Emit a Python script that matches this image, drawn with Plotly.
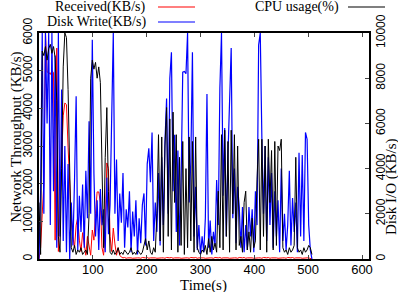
import plotly.graph_objects as go

# time stamps (s), one sample every 3 s
time_s = list(range(0, 510, 3))

received_kbs = [
    0, 300, 1200, 2000, 6000, 4960, 4960, 4900, 5000, 4950,
    500, 5600, 200, 1500, 3000, 3800, 4140, 4100, 2970, 1900,
    1100, 600, 300, 900, 1100, 500, 200, 700, 400, 100,
    600, 300, 100, 770, 500, 1200, 1780, 1780, 1500, 300,
    100, 800, 2550, 2400, 600, 200, 820, 400, 100, 300,
    100, 50, 30, 40, 20, 30, 40, 30, 20, 30,
    40, 30, 30, 20, 40, 30, 30, 40, 20, 30,
    30, 40, 30, 20, 30, 40, 30, 30, 20, 40,
    30, 30, 40, 20, 30, 30, 40, 30, 20, 30,
    40, 30, 30, 20, 40, 30, 30, 40, 20, 30,
    30, 40, 30, 20, 30, 40, 30, 30, 20, 40,
    30, 30, 40, 20, 30, 30, 40, 30, 20, 30,
    40, 30, 30, 20, 40, 30, 30, 40, 20, 30,
    30, 40, 30, 20, 30, 40, 30, 30, 20, 40,
    30, 30, 40, 20, 30, 30, 40, 30, 20, 30,
    40, 30, 30, 20, 40, 30, 30, 40, 20, 30,
    30, 40, 30, 20, 30, 40, 30, 30, 20, 0,
]

disk_write_kbs = [
    0, 3000, 10000, 2000, 10000, 6000, 10000, 1500, 10000, 3000,
    9000, 500, 10000, 1000, 7500, 800, 5000, 300, 4200, 0,
    2500, 600, 3500, 7200, 400, 2800, 1200, 3300, 500, 3900,
    1800, 6100, 2000, 9700, 3800, 1000, 2600, 400, 3100, 1500,
    2200, 300, 3600, 1100, 2400, 6500, 10000, 2000, 4400, 800,
    2900, 1600, 3800, 500, 2200, 1400, 3000, 300, 2100, 1000,
    2600, 200, 1800, 700, 2400, 2900, 600, 4200, 4900, 3400,
    5600, 800, 2500, 1200, 3800, 600, 4500, 1500, 5200, 7100,
    2000, 8000, 9150, 3000, 5500, 1200, 4800, 600, 3500, 8270,
    8300, 8200, 10000, 2500, 4300, 9150, 1000, 3200, 400, 1500,
    200, 1000, 300, 1800, 7300, 500, 1700, 200, 1200, 600,
    3500, 1500, 7570, 10000, 2800, 5800, 1000, 4600, 6700, 9340,
    1800, 4000, 700, 3200, 2300, 500, 2300, 300, 1500, 400,
    2300, 1000, 2200, 300, 3000, 1500, 9470, 10000, 5350, 2000,
    5000, 800, 4500, 1500, 3800, 500, 3000, 1000, 2600, 300,
    4000, 800, 2000, 400, 1500, 3900, 600, 2700, 1200, 2500,
    300, 4700, 1000, 4600, 800, 5600, 5300, 1500, 400, 0,
]

cpu_usage_pct = [
    25, 2, 92, 90, 94, 88, 93, 95, 91, 94,
    89, 70, 10, 3, 40, 85, 100, 98, 75, 30,
    5, 3, 6, 2, 4, 3, 5, 2, 3, 4,
    2, 20, 80, 88, 84, 87, 80, 85, 78, 40,
    5, 45, 67, 30, 3, 2, 4, 2, 3, 5,
    2, 3, 2, 4, 3, 2, 3, 5, 2, 3,
    2, 4, 3, 2, 3, 6, 9, 4, 8, 3,
    2, 5, 3, 20, 55, 8, 54, 3, 50, 67,
    10, 62, 4, 65, 25, 55, 3, 45, 6, 52,
    2, 40, 5, 54, 8, 52, 3, 54, 5, 3,
    2, 4, 3, 6, 2, 9, 3, 10, 4, 7,
    3, 30, 5, 55, 4, 57, 10, 52, 3, 57,
    20, 55, 4, 50, 6, 10, 3, 25, 30, 4,
    12, 3, 18, 5, 8, 35, 53, 4, 53, 10,
    50, 3, 53, 25, 48, 4, 52, 6, 50, 48,
    53, 5, 3, 4, 2, 5, 3, 4, 6, 45,
    5, 3, 4, 2, 5, 3, 4, 6, 5, 2,
]

x_ticks = [100, 200, 300, 400, 500, 600]
y1_ticks = [0, 1000, 2000, 3000, 4000, 5000, 6000]
y2_ticks = [0, 2000, 4000, 6000, 8000, 10000]

fig = go.Figure()
fig.add_trace(go.Scatter(x=time_s, y=received_kbs, mode="lines", name="Received(KB/s)",
                         line=dict(color="#ff0000", width=1), yaxis="y"))
fig.add_trace(go.Scatter(x=time_s, y=disk_write_kbs, mode="lines", name="Disk Write(KB/s)",
                         line=dict(color="#0000ff", width=1.2), yaxis="y2"))
fig.add_trace(go.Scatter(x=time_s, y=cpu_usage_pct, mode="lines", name="CPU usage(%)",
                         line=dict(color="#000000", width=1), yaxis="y3"))

serif = "Liberation Serif, Times New Roman, serif"
sans = "Liberation Sans, Arial, sans-serif"

fig.update_layout(
    width=398, height=292,
    margin=dict(l=39, r=29, t=33, b=33, autoexpand=False),
    paper_bgcolor="white", plot_bgcolor="white",
    showlegend=False,
    xaxis=dict(range=[0, 613], tickvals=x_ticks, ticks="inside", ticklen=4,
               showline=True, linecolor="black", linewidth=1.5, mirror="ticks",
               showgrid=False, zeroline=False, automargin=False,
               ticklabelstandoff=-2,
               tickfont=dict(family=sans, size=13, color="black")),
    yaxis=dict(range=[0, 6000], tickvals=y1_ticks, ticks="inside", ticklen=4,
               showline=True, linecolor="black", linewidth=1.5,
               showgrid=False, zeroline=False, tickangle=-90, automargin=False,
               tickfont=dict(family=sans, size=12, color="black")),
    yaxis2=dict(range=[0, 10000], tickvals=y2_ticks, tickformat="d",
                ticks="inside", ticklen=4,
                overlaying="y", side="right", anchor="x",
                showline=True, linecolor="black", linewidth=1.5,
                showgrid=False, zeroline=False, tickangle=-90, automargin=False,
                tickfont=dict(family=sans, size=12, color="black")),
    yaxis3=dict(range=[0, 100], overlaying="y", visible=False),
)

# axis titles
fig.add_annotation(text="Time(s)", xref="paper", yref="paper", x=0.497, y=-0.116,
                   showarrow=False, font=dict(family=serif, size=15, color="black"),
                   xanchor="center", yanchor="middle")
fig.add_annotation(text="Network Throughput (KB/s)", xref="paper", yref="paper",
                   x=-0.067, y=0.54, textangle=-90, showarrow=False,
                   font=dict(family=serif, size=15, color="black"),
                   xanchor="center", yanchor="middle")
fig.add_annotation(text="Disk I/O (KB/s)", xref="paper", yref="paper",
                   x=1.068, y=0.32, textangle=-90, showarrow=False,
                   font=dict(family=serif, size=15, color="black"),
                   xanchor="center", yanchor="middle")

# key (gnuplot style: text then sample)
key = [("Received(KB/s)", "#ff0000", 148, 7, 158, 195),
       ("Disk Write(KB/s)", "#0000ff", 148, 22, 158, 195),
       ("CPU usage(%)", "#000000", 341, 7, 348, 385)]
for label, col, tx, ty, lx0, lx1 in key:
    yp = (259 - ty) / 226
    fig.add_annotation(text=label, xref="paper", yref="paper",
                       x=(tx - 39) / 330, y=yp, showarrow=False,
                       xanchor="right", yanchor="middle",
                       font=dict(family=serif, size=14, color="black"))
    fig.add_shape(type="line", xref="paper", yref="paper",
                  x0=(lx0 - 39) / 330, x1=(lx1 - 39) / 330, y0=yp, y1=yp,
                  line=dict(color=col, width=1.2))

fig.write_html("out.html", config={"displayModeBar": False},
               post_script="document.body.style.margin='0';document.body.style.padding='0';")
